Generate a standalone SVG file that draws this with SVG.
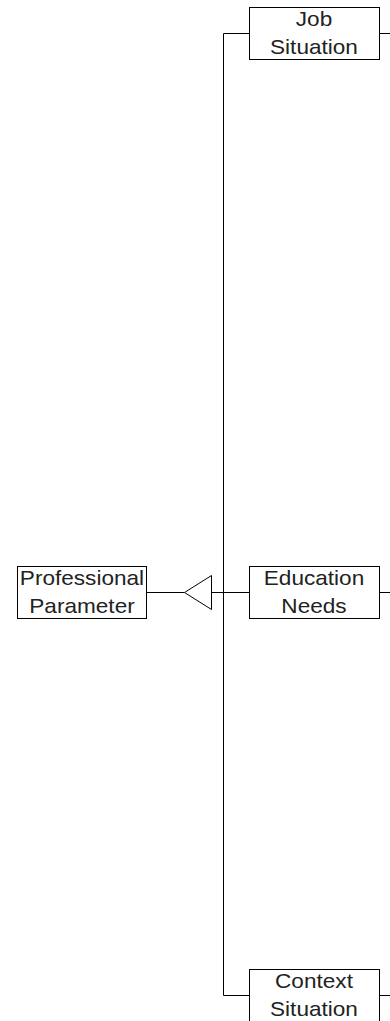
<svg xmlns="http://www.w3.org/2000/svg" width="390" height="1021" viewBox="0 0 390 1021">
<style>
.box{fill:#fff;stroke:#000;stroke-width:1}
.lbl{font-family:"Liberation Sans",Arial,sans-serif;font-size:20px;fill:#222;text-anchor:middle}
.ln{fill:none;stroke:#000;stroke-width:1}
</style>
<rect width="390" height="1021" fill="#fff"/>
<g id="connectors">
<path class="ln" d="M223.5,33.5 V995.5"/>
<path class="ln" d="M223.5,33.5 H249.5"/>
<path class="ln" d="M223.5,995.5 H249.5"/>
<path class="ln" d="M146.5,592.5 H184.5"/>
<path class="ln" d="M211.5,592.5 H249.5"/>
<path class="ln" d="M379.5,33.5 H390"/>
<path class="ln" d="M379.5,592.5 H390"/>
<path class="ln" d="M379.5,995.5 H390"/>
<polygon class="ln" points="184.5,592.5 211.5,575.5 211.5,609.5" style="fill:#fff"/>
</g>
<g id="professional-parameter">
<rect class="box" x="17.5" y="566.5" width="129" height="52"/>
<text class="lbl" x="82" y="585" transform="translate(82,0) scale(1.13,1) translate(-82,0)">Professional</text>
<text class="lbl" x="82" y="613" transform="translate(82,0) scale(1.13,1) translate(-82,0)">Parameter</text>
</g>
<g id="job-situation">
<rect class="box" x="249.5" y="7.5" width="130" height="52"/>
<text class="lbl" x="314" y="26" transform="translate(314,0) scale(1.13,1) translate(-314,0)">Job</text>
<text class="lbl" x="314" y="54" transform="translate(314,0) scale(1.13,1) translate(-314,0)">Situation</text>
</g>
<g id="education-needs">
<rect class="box" x="249.5" y="566.5" width="130" height="52"/>
<text class="lbl" x="314" y="585" transform="translate(314,0) scale(1.13,1) translate(-314,0)">Education</text>
<text class="lbl" x="314" y="613" transform="translate(314,0) scale(1.13,1) translate(-314,0)">Needs</text>
</g>
<g id="context-situation">
<rect class="box" x="249.5" y="969.5" width="130" height="52"/>
<text class="lbl" x="314" y="988" transform="translate(314,0) scale(1.13,1) translate(-314,0)">Context</text>
<text class="lbl" x="314" y="1016" transform="translate(314,0) scale(1.13,1) translate(-314,0)">Situation</text>
</g>
</svg>
